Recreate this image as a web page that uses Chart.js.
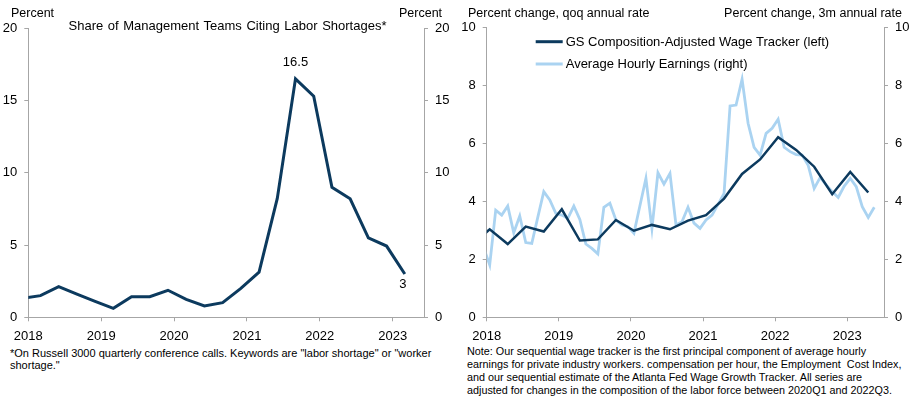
<!DOCTYPE html>
<html>
<head>
<meta charset="utf-8">
<script src="https://cdn.jsdelivr.net/npm/chart.js@4.4.0/dist/chart.umd.min.js"></script>
<style>
  body { margin: 0; background: #fff; }
  #wrap { position: relative; width: 916px; height: 407px; overflow: hidden;
          font-family: "Liberation Sans", Arial, sans-serif; color: #000; }
  canvas { position: absolute; top: 0; }
  .txt { position: absolute; white-space: nowrap; font-size: 12.5px; line-height: 14px; }
  .note { position: absolute; white-space: nowrap; font-size: 11px; }
</style>
</head>
<body>
<div id="wrap">
  <canvas id="shortages" width="460" height="345" style="left:0"></canvas>
  <canvas id="wages" width="456" height="345" style="left:460px"></canvas>

  <div class="txt" style="left:11px;top:6px">Percent</div>
  <div class="txt" style="left:399px;top:6px">Percent</div>
  <div class="txt" style="left:0;width:455px;top:19px;text-align:center;font-size:13px;word-spacing:1px">Share of Management Teams Citing Labor Shortages*</div>
  <div class="txt" style="left:468px;top:6px">Percent change, qoq annual rate</div>
  <div class="txt" style="right:14px;top:6px">Percent change, 3m annual rate</div>

  <div class="note" style="left:10px;top:347px;line-height:12px">*On Russell 3000 quarterly conference calls. Keywords are "labor shortage" or "worker<br>shortage."</div>
  <div class="note" style="left:467px;top:345px;line-height:13px;font-size:10.8px">Note: Our sequential wage tracker is the first principal component of average hourly<br>earnings for private industry workers. compensation per hour, the Employment &nbsp;Cost Index,<br>and our sequential estimate of the Atlanta Fed Wage Growth Tracker. All series are<br>adjusted for changes in the composition of the labor force between 2020Q1 and 2022Q3.</div>
</div>

<script>
// --- Data ---
const yearTicks = [2018, 2019, 2020, 2021, 2022, 2023];
const shortageTicks = [0, 5, 10, 15, 20];
const wageTicks = [0, 2, 4, 6, 8, 10];

// quarterly, first entry sits just left of the axis and is clipped
const shortageMonths = monthRange('2017-12', '2023-03', 3);
const shortageValues = [1.3, 1.5, 2.12, 1.6, 1.1, 0.62, 1.43, 1.43, 1.87, 1.24, 0.78,
                        1.01, 2.0, 3.13, 8.23, 16.5, 15.3, 9.0, 8.2, 5.5, 4.93, 3];

const trackerMonths = monthRange('2017-10', '2023-04', 3);
const trackerValues = [2.5, 3.04, 2.53, 3.13, 2.96, 3.73, 2.65, 2.69, 3.36, 2.99, 3.19, 3.04,
                       3.34, 3.53, 4.1, 4.95, 5.45, 6.22, 5.78, 5.2, 4.25, 5.02, 4.31];

const aheMonths = monthRange('2017-12', '2023-05', 1);
const aheValues = [2.4,
  1.81, 3.7, 3.53, 3.84, 2.92, 3.5, 2.58, 2.55, 3.45, 4.34, 4.05, 3.59,
  3.53, 3.42, 3.84, 3.38, 2.53, 2.38, 2.19, 3.8, 3.94, 3.36, 3.19, 3.13,
  2.9, 3.85, 4.8, 3.07, 4.99, 4.6, 4.97, 3.19, 3.3, 3.8, 3.25, 3.07,
  3.36, 3.53, 3.9, 4.28, 7.3, 7.33, 8.22, 6.7, 5.87, 5.6, 6.35, 6.53,
  6.84, 5.87, 5.72, 5.62, 5.6, 5.25, 4.45, 4.83, 4.57, 4.34, 4.14, 4.53,
  4.8, 4.51, 3.82, 3.45, 3.8];

const trackerLabel = 'GS Composition-Adjusted Wage Tracker (left)';
const aheLabel = 'Average Hourly Earnings (right)';

// --- Helpers ---
function monthRange(start, end, step) {
  const [sy, sm] = start.split('-').map(Number);
  const [ey, em] = end.split('-').map(Number);
  const out = [];
  for (let i = sy * 12 + sm - 1; i <= ey * 12 + em - 1; i += step) {
    const y = Math.floor(i / 12), m = i % 12 + 1;
    out.push(y + '-' + String(m).padStart(2, '0'));
  }
  return out;
}

function toYear(month, dayFrac) {
  const [y, m] = month.split('-').map(Number);
  return y + (m - 1 + dayFrac) / 12;
}

function points(months, values, dayFrac) {
  return months.map((m, i) => ({ x: toYear(m, dayFrac), y: values[i] }));
}

const GRAY = '#a6a6a6';
const NAVY = '#0c3a5e';
const LIGHT = '#aad3f1';
const FONT = '"Liberation Sans", Arial, sans-serif';

Chart.defaults.font.family = FONT;
Chart.defaults.font.size = 13;
Chart.defaults.color = '#000';

function xAxis(max) {
  return {
    type: 'linear', min: 2018, max: max,
    afterBuildTicks: s => { s.ticks = yearTicks.map(v => ({ value: v })); },
    afterFit: s => { s.height = 27.7; },
    ticks: { callback: v => String(v), padding: 7, maxRotation: 0, autoSkip: false },
    grid: { drawOnChartArea: false, tickLength: 4, color: GRAY },
    border: { color: GRAY }
  };
}

function yAxis(position, max, ticks, width) {
  return {
    type: 'linear', position: position, min: 0, max: max,
    afterBuildTicks: s => { s.ticks = ticks.map(v => ({ value: v })); },
    afterFit: s => { s.width = width; },
    ticks: { padding: 7 },
    grid: { drawOnChartArea: false, tickLength: 4, color: GRAY },
    border: { color: GRAY }
  };
}

// value labels next to selected points
const valueLabels = {
  id: 'valueLabels',
  afterDatasetsDraw(chart, args, opts) {
    const { ctx } = chart;
    const meta = chart.getDatasetMeta(0);
    const values = chart.data.datasets[0].data;
    ctx.save();
    ctx.font = '13px ' + FONT;
    ctx.fillStyle = '#000';
    ctx.textAlign = 'center';
    ctx.textBaseline = 'middle';
    opts.items.forEach(it => {
      const el = meta.data[it.index];
      ctx.fillText(String(values[it.index].y), el.x + it.dx, el.y + it.dy);
    });
    ctx.restore();
  }
};

// legend drawn inside the plot area
const insideLegend = {
  id: 'insideLegend',
  afterDraw(chart) {
    const { ctx, chartArea } = chart;
    const x0 = chartArea.left + 49, y0 = chartArea.top + 14;
    ctx.save();
    ctx.font = '13px ' + FONT;
    ctx.textBaseline = 'middle';
    chart.data.datasets.forEach((ds, i) => {
      const y = y0 + i * 22.3;
      ctx.strokeStyle = ds.borderColor;
      ctx.lineWidth = 3;
      ctx.beginPath();
      ctx.moveTo(x0, y);
      ctx.lineTo(x0 + 27, y);
      ctx.stroke();
      ctx.fillStyle = '#000';
      ctx.fillText(ds.label, x0 + 30, y + 0.5);
    });
    ctx.restore();
  }
};

// --- Left chart: labor shortages ---
const peakIndex = shortageValues.indexOf(Math.max(...shortageValues));

new Chart(document.getElementById('shortages'), {
  type: 'line',
  data: {
    datasets: [{
      label: 'Share of Management Teams Citing Labor Shortages',
      data: points(shortageMonths, shortageValues, 0),
      borderColor: NAVY,
      borderWidth: 3,
      pointRadius: 0,
      tension: 0
    }]
  },
  options: {
    responsive: false,
    animation: false,
    layout: { padding: { top: 28.3, left: 0, right: 0, bottom: 0 } },
    scales: {
      x: xAxis(2023.43),
      y: yAxis('left', 20, shortageTicks, 28.3),
      y2: yAxis('right', 20, shortageTicks, 36)
    },
    plugins: {
      legend: { display: false },
      tooltip: { enabled: false },
      valueLabels: { items: [
        { index: peakIndex, dx: 0, dy: -16 },
        { index: shortageValues.length - 1, dx: -2, dy: 10 }
      ] }
    }
  },
  plugins: [valueLabels]
});

// --- Right chart: wage growth ---
new Chart(document.getElementById('wages'), {
  type: 'line',
  data: {
    datasets: [{
      label: trackerLabel,
      data: points(trackerMonths, trackerValues, 0.5),
      borderColor: NAVY,
      borderWidth: 2.5,
      pointRadius: 0,
      tension: 0,
      yAxisID: 'y'
    }, {
      label: aheLabel,
      data: points(aheMonths, aheValues, 0.5),
      borderColor: LIGHT,
      borderWidth: 2.8,
      pointRadius: 0,
      tension: 0,
      yAxisID: 'y2'
    }]
  },
  options: {
    responsive: false,
    animation: false,
    layout: { padding: { top: 27.7, left: 0, right: 0, bottom: 0 } },
    scales: {
      x: xAxis(2023.51),
      y: yAxis('left', 10, wageTicks, 26.7),
      y2: yAxis('right', 10, wageTicks, 32)
    },
    plugins: {
      legend: { display: false },
      tooltip: { enabled: false }
    }
  },
  plugins: [insideLegend]
});
</script>
</body>
</html>
